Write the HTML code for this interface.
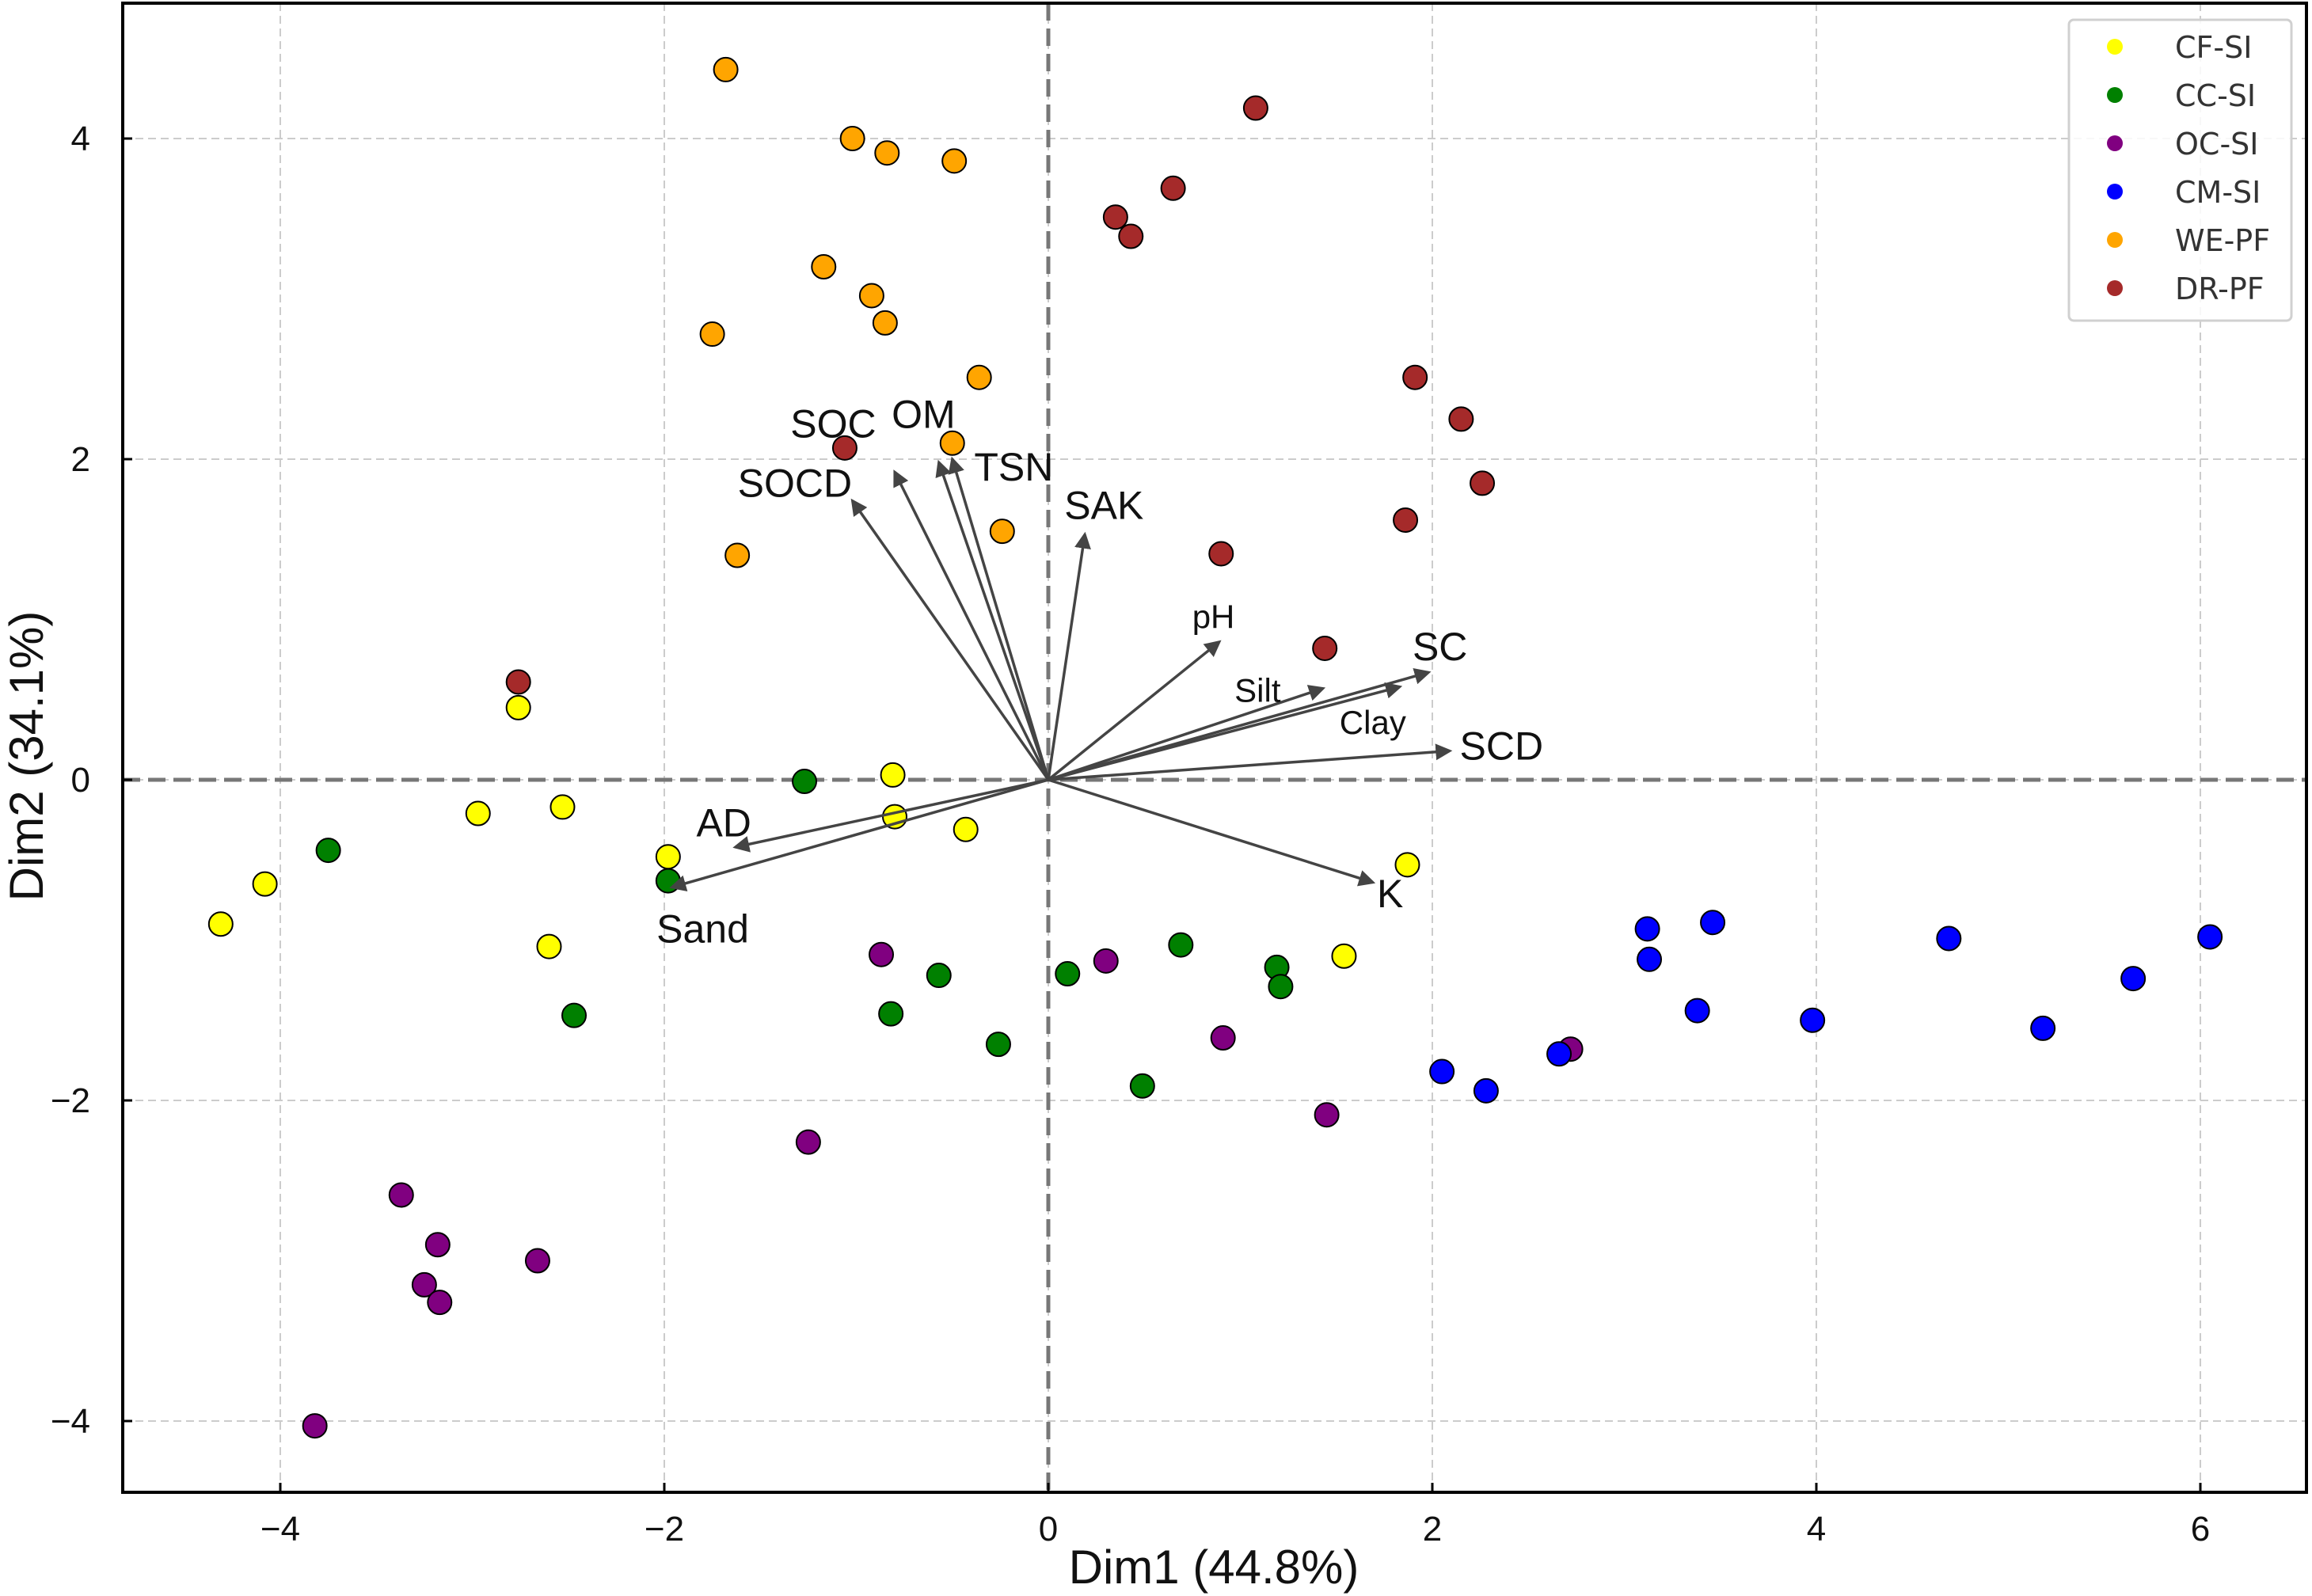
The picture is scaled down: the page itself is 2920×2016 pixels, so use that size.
<!DOCTYPE html>
<html><head><meta charset="utf-8"><style>
html,body{margin:0;padding:0;background:#fff}
svg{display:block;font-family:"Liberation Sans","DejaVu Sans",sans-serif}
</style></head><body>
<svg id="chart" width="2920" height="2016" viewBox="0 0 2920 2016" xmlns="http://www.w3.org/2000/svg">
<g id="grid"></g>
<g id="zero"></g>
<g id="pts"></g>
<g id="arrows"></g>
<g id="axes"></g>
<g id="legend"></g>
</svg>
<script>
const groups=["CF-SI","CC-SI","OC-SI","CM-SI","WE-PF","DR-PF"];
const groupColors=["#ffff00","#008000","#800080","#0000ff","#ffa500","#a52a2a"];
const cfX=[-4.08,-4.31,-2.76,-2.97,-2.53,-2.6,-1.98,-0.81,-0.8,-0.43,1.87,1.54];
const cfY=[-0.65,-0.90,0.45,-0.21,-0.17,-1.04,-0.48,0.03,-0.23,-0.31,-0.53,-1.10];
const ccX=[-3.75,-2.47,-1.98,-1.27,-0.82,-0.57,-0.26,0.1,0.49,0.69,1.19,1.21];
const ccY=[-0.44,-1.47,-0.63,-0.01,-1.46,-1.22,-1.65,-1.21,-1.91,-1.03,-1.17,-1.29];
const ocX=[-3.82,-3.37,-3.18,-3.25,-3.17,-2.66,-1.25,-0.87,0.3,0.91,1.45,2.72];
const ocY=[-4.03,-2.59,-2.90,-3.15,-3.26,-3.0,-2.26,-1.09,-1.13,-1.61,-2.09,-1.68];
const cmX=[2.05,2.28,2.66,3.12,3.13,3.46,3.38,3.98,4.69,5.18,5.65,6.05];
const cmY=[-1.82,-1.94,-1.71,-0.93,-1.12,-0.89,-1.44,-1.50,-0.99,-1.55,-1.24,-0.98];
const weX=[-1.68,-1.02,-0.84,-0.49,-1.17,-0.92,-0.85,-1.75,-0.36,-0.5,-0.24,-1.62];
const weY=[4.43,4.0,3.91,3.86,3.2,3.02,2.85,2.78,2.51,2.1,1.55,1.40];
const drX=[1.08,0.65,0.35,0.43,1.91,2.15,2.26,1.86,0.9,1.44,-1.06,-2.76];
const drY=[4.19,3.69,3.51,3.39,2.51,2.25,1.85,1.62,1.41,0.82,2.07,0.61];
const vars=["SOCD","SOC","OM","TSN","SAK","pH","Silt","Clay","SC","SCD","K","AD","Sand"];
const loadX=[-1.02,-0.8,-0.57,-0.5,0.19,0.89,1.43,1.83,1.98,2.09,1.69,-1.63,-1.96];
const loadY=[1.74,1.92,1.98,2.0,1.53,0.86,0.57,0.58,0.67,0.18,-0.64,-0.42,-0.67];
const labX=[-1.32,-1.12,-0.65,-0.18,0.29,0.86,1.09,1.69,2.04,2.36,1.78,-1.69,-1.8];
const labY=[1.85,2.22,2.28,1.95,1.71,1.03,0.57,0.37,0.83,0.21,-0.71,-0.27,-0.93];
const xTicks=[-4,-2,0,2,4,6];
const yTicks=[-4,-2,0,2,4];
const xLabels=["−4","−2","0","2","4","6"];
const yLabels=["−4","−2","0","2","4"];

const NS="http://www.w3.org/2000/svg";
const L=155,R=2913,T=4,B=1885;
function sx(v){return 1324+v*242.5;}
function sy(v){return 985-v*202.5;}
function mk(tag,attrs,parent){const e=document.createElementNS(NS,tag);for(const k in attrs)e.setAttribute(k,attrs[k]);parent.appendChild(e);return e;}
const grid=document.getElementById('grid'),zero=document.getElementById('zero'),pts=document.getElementById('pts'),arr=document.getElementById('arrows'),axes=document.getElementById('axes'),leg=document.getElementById('legend');
const svg=document.getElementById('chart');
const defs=mk('defs',{},svg);
const mar=mk('marker',{id:'ah',markerWidth:'6',markerHeight:'6',refX:'5',refY:'3',orient:'auto',markerUnits:'strokeWidth'},defs);
mk('path',{d:'M0,0 L6,3 L0,6 Z',fill:'#444'},mar);

xTicks.forEach((t,i)=>{
  let g=mk('line',{x1:sx(t),x2:sx(t),y1:T,y2:B,stroke:'#cccccc','stroke-width':2,'stroke-dasharray':'10,6'},grid);
  
  let tk=mk('line',{x1:sx(t),x2:sx(t),y1:B,y2:B-12,stroke:'#000','stroke-width':3},axes);
  
  let tl=mk('text',{x:sx(t),y:1946,'font-size':44,'text-anchor':'middle',fill:'#111'},axes);
  tl.textContent=xLabels[i];
  
});
yTicks.forEach((t,i)=>{
  let g=mk('line',{x1:L,x2:R,y1:sy(t),y2:sy(t),stroke:'#cccccc','stroke-width':2,'stroke-dasharray':'10,6'},grid);
  
  let tk=mk('line',{x1:L,x2:L+12,y1:sy(t),y2:sy(t),stroke:'#000','stroke-width':3},axes);
  
  let tl=mk('text',{x:114,y:sy(t)+15,'font-size':44,'text-anchor':'end',fill:'#111'},axes);
  tl.textContent=yLabels[i];
  
});
let zx=mk('line',{x1:sx(0),x2:sx(0),y1:T,y2:B,stroke:'#777','stroke-width':5,'stroke-dasharray':'22,10'},zero);

let zy=mk('line',{x1:L,x2:R,y1:sy(0),y2:sy(0),stroke:'#777','stroke-width':5,'stroke-dasharray':'22,10'},zero);


const allX=[cfX,ccX,ocX,cmX,weX,drX],allY=[cfY,ccY,ocY,cmY,weY,drY];
allX.forEach((xs,gi)=>{
  xs.forEach((x,j)=>{
    let c=mk('circle',{cx:sx(x),cy:sy(allY[gi][j]),r:15,fill:groupColors[gi],stroke:'#000','stroke-width':2},pts);
    
    
  });
});
vars.forEach((v,i)=>{
  let l=mk('line',{x1:sx(0),y1:sy(0),x2:sx(loadX[i]),y2:sy(loadY[i]),stroke:'#444','stroke-width':3.5,'marker-end':'url(#ah)'},arr);
  
  
  let t=mk('text',{x:sx(labX[i]),y:sy(labY[i])+17,'font-size':v==='Silt'||v==='Clay'||v==='pH'?42:50,'text-anchor':'middle',fill:'#111'},arr);
  t.textContent=v;
  
  
});
let fr=mk('rect',{x:L,y:T,width:R-L,height:B-T,fill:'none',stroke:'#000','stroke-width':4},axes);

let xt=mk('text',{x:1533,y:2000,'font-size':60,'text-anchor':'middle',fill:'#111'},axes);
xt.textContent='Dim1 (44.8%)';

let yt=mk('text',{x:0,y:0,'font-size':60,'text-anchor':'middle',fill:'#111',transform:'translate(54,955) rotate(-90)'},axes);
yt.textContent='Dim2 (34.1%)';

let lb=mk('rect',{x:2613,y:25,width:281,height:380,rx:6,fill:'rgba(255,255,255,0.85)',stroke:'#d0d0d0','stroke-width':3},leg);

groups.forEach((g,i)=>{
  const y=59+i*61;
  let c=mk('circle',{cx:2671,cy:y,r:10,fill:groupColors[i]},leg);
  
  let t=mk('text',{x:2747,y:y+14,'font-size':38,fill:'#333','font-family':'DejaVu Sans, sans-serif'},leg);
  t.textContent=g;
  
});
</script>
</body></html>
